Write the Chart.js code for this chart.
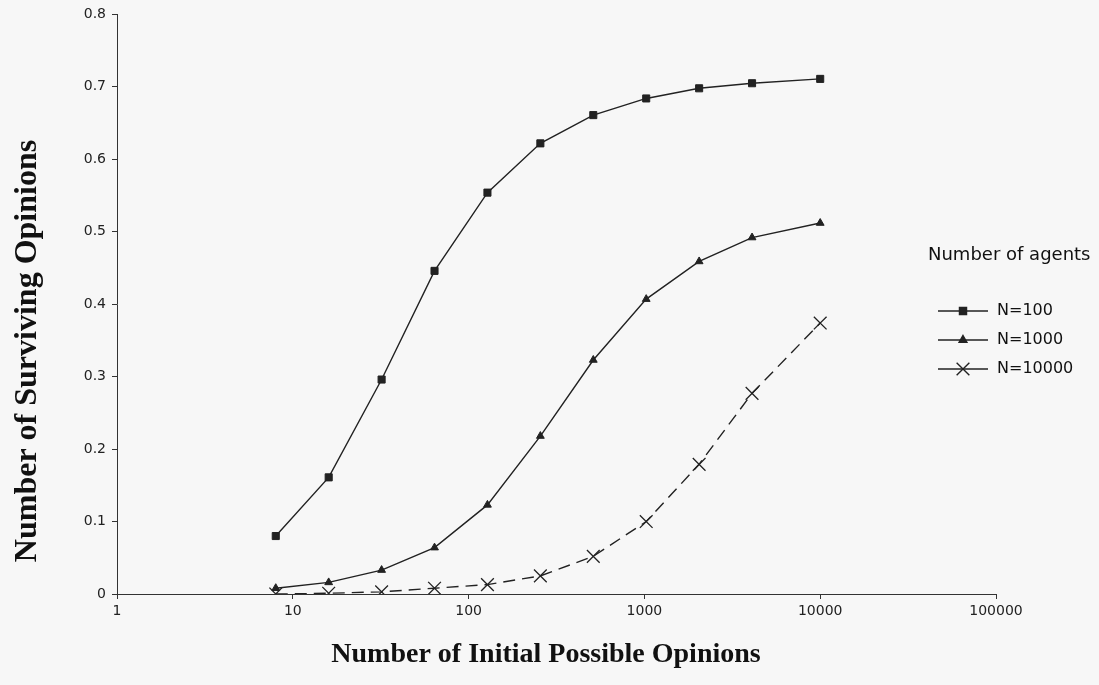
<!DOCTYPE html>
<html>
<head>
<meta charset="utf-8">
<script src="https://cdn.jsdelivr.net/npm/chart.js@4.4.0/dist/chart.umd.min.js"></script>
<style>
  html, body { margin: 0; padding: 0; background: #f7f7f7; }
  #wrap { width: 1099px; height: 685px; }
</style>
</head>
<body>
<div id="wrap"><canvas id="myChart" width="1099" height="685"></canvas></div>
<script>
// initial possible opinions (x, log scale)
var opinions = [8, 16, 32, 64, 128, 256, 512, 1024, 2048, 4096, 10000];

// fraction of surviving opinions for each population size
var n100 = [0.080, 0.161, 0.296, 0.446, 0.554, 0.622, 0.661, 0.684, 0.698, 0.705, 0.711];
var n1000 = [0.008, 0.016, 0.033, 0.064, 0.123, 0.218, 0.323, 0.407, 0.459, 0.492, 0.512];
var n10000 = [0.000, 0.001, 0.003, 0.008, 0.013, 0.025, 0.052, 0.100, 0.179, 0.277, 0.374];

var seriesNames = ["N=100", "N=1000", "N=10000"];
var xTicks = [1, 10, 100, 1000, 10000, 100000];

var xTitle = "Number of Initial Possible Opinions";
var yTitle = "Number of Surviving Opinions";
var legendTitle = "Number of agents";

function toPoints(ys) {
  var pts = [];
  for (var i = 0; i < opinions.length; i++) {
    pts.push({ x: opinions[i], y: ys[i] });
  }
  return pts;
}

var ink = "#222";

// axis titles and the side legend, drawn on the canvas
var extras = {
  id: "extras",
  beforeDraw: function (chart) {
    var c = chart.ctx;
    c.save();
    c.fillStyle = "#f7f7f7";
    c.fillRect(0, 0, chart.width, chart.height);
    c.restore();
  },
  afterDraw: function (chart) {
    var c = chart.ctx;
    c.save();
    c.fillStyle = "#111";
    c.font = "bold 28px 'Liberation Serif', 'Times New Roman', serif";
    c.textAlign = "center";
    c.textBaseline = "middle";
    c.fillText(xTitle, 546, 655);

    c.translate(28, 351);
    c.rotate(-Math.PI / 2);
    c.font = "bold 32px 'Liberation Serif', 'Times New Roman', serif";
    c.fillText(yTitle, 0, 0);
    c.restore();

    // legend
    c.save();
    c.fillStyle = "#111";
    c.textAlign = "left";
    c.textBaseline = "middle";
    c.font = "18px 'DejaVu Sans', sans-serif";
    c.fillText(legendTitle, 928, 255);

    var rows = [311, 340, 369];
    c.font = "16px 'DejaVu Sans', sans-serif";
    chart.data.datasets.forEach(function (ds, i) {
      var y = rows[i];
      c.strokeStyle = ds.borderColor;
      c.lineWidth = 1.4;
      c.setLineDash([]);
      c.beginPath();
      c.moveTo(938, y);
      c.lineTo(988, y);
      c.stroke();
      c.fillStyle = ink;
      Chart.helpers.drawPoint(c, {
        pointStyle: ds.pointStyle,
        radius: ds.pointRadius,
        borderWidth: ds.pointBorderWidth
      }, 963, y);
      c.fillStyle = "#111";
      c.fillText(ds.label, 997, y);
    });
    c.restore();
  }
};

var ctx = document.getElementById("myChart").getContext("2d");
var myChart = new Chart(ctx, {
  type: "line",
  data: {
    datasets: [
      {
        label: seriesNames[0],
        data: toPoints(n100),
        borderColor: ink,
        backgroundColor: ink,
        borderWidth: 1.4,
        pointStyle: "rect",
        pointRadius: 5,
        pointBorderWidth: 1,
        pointBackgroundColor: ink,
        pointBorderColor: ink,
        tension: 0
      },
      {
        label: seriesNames[1],
        data: toPoints(n1000),
        borderColor: ink,
        backgroundColor: ink,
        borderWidth: 1.4,
        pointStyle: "triangle",
        pointRadius: 4.5,
        pointBorderWidth: 1,
        pointBackgroundColor: ink,
        pointBorderColor: ink,
        tension: 0
      },
      {
        label: seriesNames[2],
        data: toPoints(n10000),
        borderColor: ink,
        backgroundColor: ink,
        borderWidth: 1.4,
        borderDash: [12, 7],
        pointStyle: "crossRot",
        pointRadius: 9,
        pointBorderWidth: 1.3,
        pointBackgroundColor: ink,
        pointBorderColor: ink,
        tension: 0
      }
    ]
  },
  options: {
    responsive: false,
    animation: false,
    events: [],
    layout: { padding: { left: 0, top: 14, right: 103, bottom: 0 } },
    plugins: {
      legend: { display: false },
      tooltip: { enabled: false }
    },
    scales: {
      x: {
        type: "logarithmic",
        min: 1,
        max: 100000,
        afterBuildTicks: function (scale) {
          scale.ticks = xTicks.map(function (v) { return { value: v }; });
        },
        afterFit: function (scale) { scale.height = 91; },
        grid: {
          drawOnChartArea: false,
          drawTicks: true,
          tickLength: 5,
          tickColor: "#333"
        },
        border: { display: true, color: "#333", width: 1 },
        ticks: {
          autoSkip: false,
          maxRotation: 0,
          padding: 4,
          color: "#222",
          font: { family: "'DejaVu Sans', sans-serif", size: 14 },
          callback: function (v) { return String(v); }
        }
      },
      y: {
        min: 0,
        max: 0.8,
        afterFit: function (scale) { scale.width = 117; },
        grid: {
          drawOnChartArea: false,
          drawTicks: true,
          tickLength: 5,
          tickColor: "#333"
        },
        border: { display: true, color: "#333", width: 1 },
        ticks: {
          stepSize: 0.1,
          padding: 6,
          color: "#222",
          font: { family: "'DejaVu Sans', sans-serif", size: 14 },
          callback: function (v) { return String(Number(v.toFixed(1))); }
        }
      }
    }
  },
  plugins: [extras]
});
</script>
</body>
</html>
